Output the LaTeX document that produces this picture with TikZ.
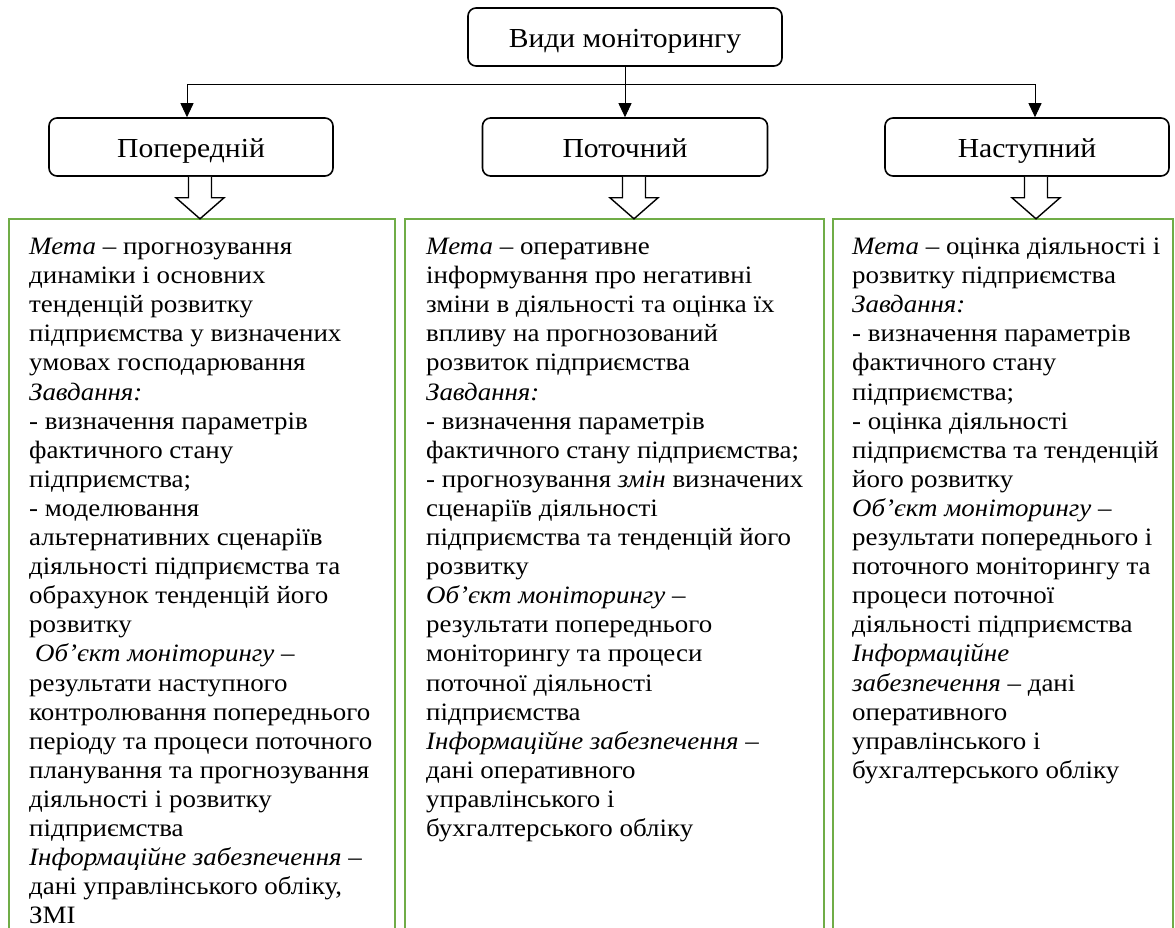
\documentclass[tikz,border=0pt]{standalone}
\usepackage{fontspec}
\setmainfont{Liberation Serif}[FakeStretch = 1.077]
\usepackage{xcolor}
\usetikzlibrary{calc, arrows.meta}

\definecolor{panelgreen}{RGB}{112,173,71}

\begin{document}
\begin{tikzpicture}[x = 1pt, y = -1pt,
	kind/.style = {draw, rounded corners = 8pt, line width = 1.6pt, minimum height = 58pt,
		text height = 24pt, text depth = 3pt, font = \fontsize{27.5}{30}\selectfont},
	panel/.style = {draw = panelgreen, line width = 2pt, minimum height = 760pt, anchor = north},
	body/.style = {anchor = north west, align = left, inner sep = 0pt,
		font = \fontsize{25}{29.1}\selectfont},
	conn/.style = {-{Triangle[width = 13pt, length = 14pt]}, line width = 0.9pt}]

	\clip (0,0) rectangle (1175,928);

	% kinds of monitoring
	\node [kind, minimum width = 314pt] (title) at (625,37) {Види моніторингу};
	\node [kind, minimum width = 284pt] (prev) at (191,147) {Попередній};
	\node [kind, minimum width = 285pt] (cur) at (625,147) {Поточний};
	\node [kind, minimum width = 284pt] (next) at (1027,147) {Наступний};

	\coordinate (bus) at ($(title.south)+(0,18)$);
	\draw [conn] (title.south) -- (cur.north);
	\draw [conn] (bus) -| ([xshift = -4pt]prev.north);
	\draw [conn] (bus) -| ([xshift = 8pt]next.north);

	% description panels
	\node [panel, minimum width = 386pt] (prevpanel) at (202,218) {};
	\node [panel, minimum width = 419pt] (curpanel) at (614.5,218) {};
	\node [panel, minimum width = 340pt] (nextpanel) at (1003,218) {};

	\foreach \k in {prev, cur, next} {
		\draw [line width = 1.4pt, fill = white] ($(\k.south)+(-2.5,0)$) -- ++(0,21) -- ++(-12.5,0)
			-- ++(24,21) -- ++(24,-21) -- ++(-12.5,0) -- ++(0,-21);
	}

	\node [body] (prevtext) at ($(prevpanel.north west)+(21,16)$) {%
		\strut\textit{Мета} – прогнозування\\
		динаміки і основних\\
		тенденцій розвитку\\
		підприємства у визначених\\
		умовах господарювання\\
		\textit{Завдання:}\\
		- визначення параметрів\\
		фактичного стану\\
		підприємства;\\
		- моделювання\\
		альтернативних сценаріїв\\
		діяльності підприємства та\\
		обрахунок тенденцій його\\
		розвитку\\
		\hspace*{6pt}\textit{Об’єкт моніторингу} –\\
		результати наступного\\
		контролювання попереднього\\
		періоду та процеси поточного\\
		планування та прогнозування\\
		діяльності і розвитку\\
		підприємства\\
		\textit{Інформаційне забезпечення} –\\
		дані управлінського обліку,\\
		ЗМІ};

	\node [body] (curtext) at ($(curpanel.north west)+(22,16)$) {%
		\strut\textit{Мета} – оперативне\\
		інформування про негативні\\
		зміни в діяльності та оцінка їх\\
		впливу на прогнозований\\
		розвиток підприємства\\
		\textit{Завдання:}\\
		- визначення параметрів\\
		фактичного стану підприємства;\\
		- прогнозування \textit{змін} визначених\\
		сценаріїв діяльності\\
		підприємства та тенденцій його\\
		розвитку\\
		\textit{Об’єкт моніторингу} –\\
		результати попереднього\\
		моніторингу та процеси\\
		поточної діяльності\\
		підприємства\\
		\textit{Інформаційне забезпечення} –\\
		дані оперативного\\
		управлінського і\\
		бухгалтерського обліку};

	\node [body] (nexttext) at ($(nextpanel.north west)+(20,16)$) {%
		\strut\textit{Мета} – оцінка діяльності і\\
		розвитку підприємства\\
		\textit{Завдання:}\\
		- визначення параметрів\\
		фактичного стану\\
		підприємства;\\
		- оцінка діяльності\\
		підприємства та тенденцій\\
		його розвитку\\
		\textit{Об’єкт моніторингу} –\\
		результати попереднього і\\
		поточного моніторингу та\\
		процеси поточної\\
		діяльності підприємства\\
		\textit{Інформаційне}\\
		\textit{забезпечення} – дані\\
		оперативного\\
		управлінського і\\
		бухгалтерського обліку};
\end{tikzpicture}
\end{document}
